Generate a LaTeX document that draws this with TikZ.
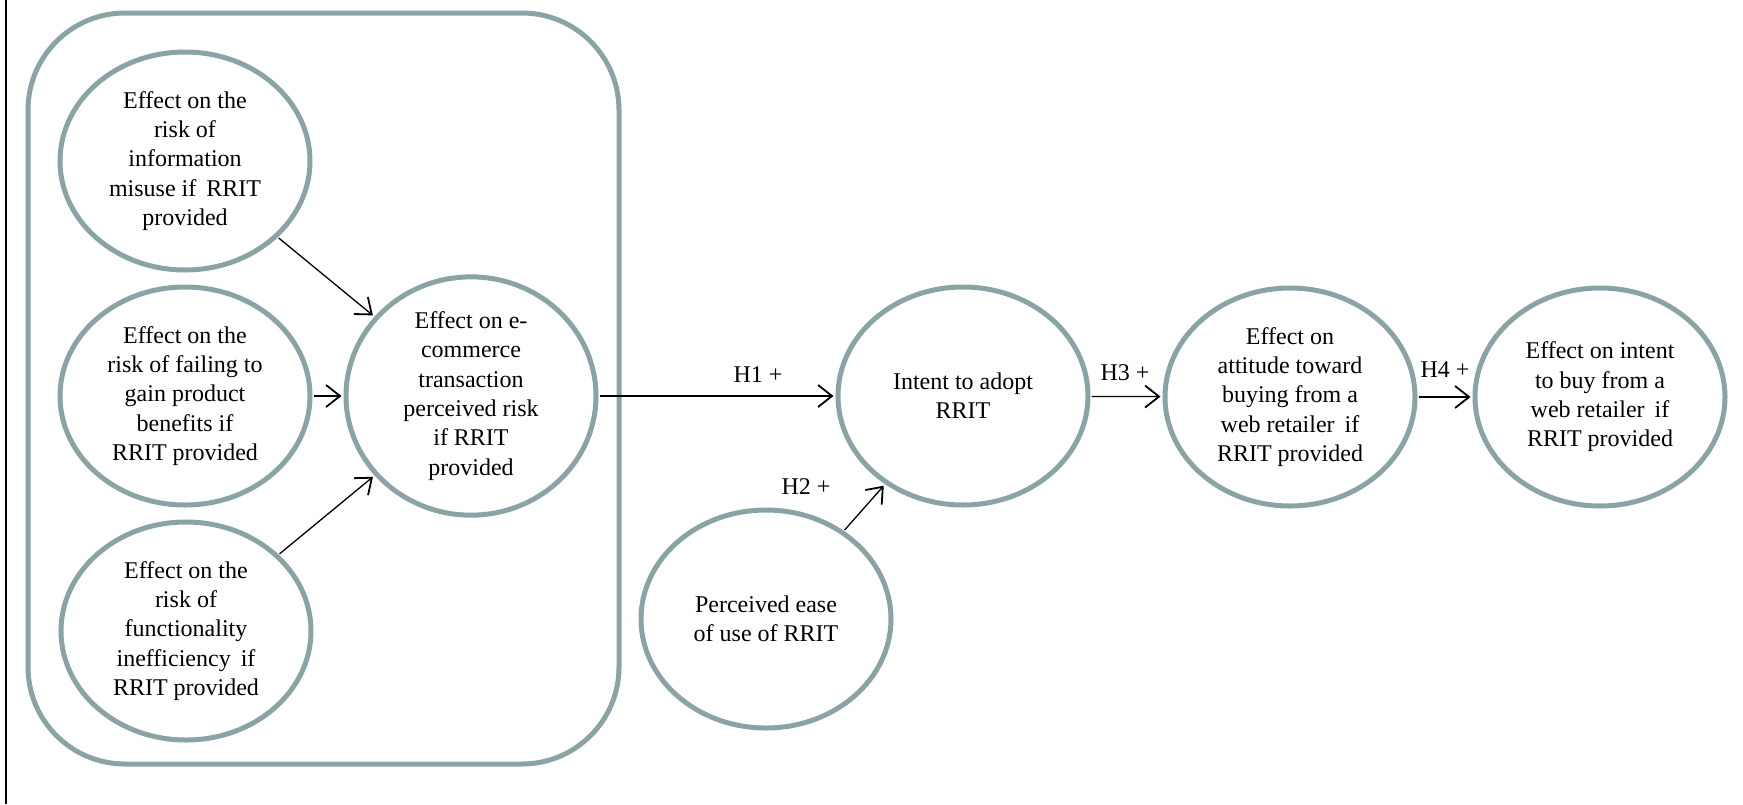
\documentclass[tikz,border=0pt]{standalone}
\usepackage{fontspec}
\setmainfont{Liberation Serif}
\usetikzlibrary{shapes.geometric,arrows.meta}
\definecolor{ringgray}{RGB}{138,164,166}
\begin{document}
\begin{tikzpicture}[x=1pt,y=-1pt,
  construct/.style={ellipse, draw=ringgray, line width=5pt, minimum width=250pt,
    minimum height=218pt, inner sep=0pt, align=center,
    font=\fontsize{24}{29.3}\selectfont},
  link/.style={draw=black, line width=1.3pt,
    -{Straight Barb[length=14pt,width=22pt,line width=1.8pt]},
    shorten >=2pt, shorten <=1pt},
  hyp/.style={font=\fontsize{24}{29}\selectfont, inner sep=0pt}]
\useasboundingbox (0,0) rectangle (1743,804);

% page rule on the left
\draw[line width=2.5pt] (6,0) -- (6,804);

% group of the risk constructs
\draw[ringgray, line width=5pt, rounded corners=97pt] (28,13) rectangle (619,764);

% constructs
\node[construct] (misuse) at (185,161) {Effect on the\\risk of\\information\\misuse if\, RRIT\\provided};
\node[construct] (benefit) at (185,396) {Effect on the\\risk of failing to\\gain product\\benefits if\\RRIT provided};
\node[construct] (function) at (186,631) {Effect on the\\risk of\\functionality\\inefficiency\, if\\RRIT provided};
\node[construct] (ecom) at (471,396) {Effect on e-\\commerce\\transaction\\perceived risk\\if RRIT\\provided};
\node[construct] (adopt) at (963,396) {Intent to adopt\\RRIT};
\node[construct] (ease) at (766,619) {Perceived ease\\of use of RRIT};
\node[construct] (attitude) at (1290,397) {Effect on\\attitude toward\\buying from a\\web retailer\, if\\RRIT provided};
\node[construct] (buy) at (1600,397) {Effect on intent\\to buy from a\\web retailer\, if\\RRIT provided};

% hypothesised paths
\draw[link] (misuse) -- (ecom);
\draw[link] (benefit) -- (ecom);
\draw[link] (function) -- (ecom);
\draw[link] (ecom) -- (adopt);
\draw[link] (ease) -- (adopt);
\draw[link] (adopt) -- (attitude);
\draw[link] (attitude) -- (buy);

% path labels
\node[hyp] (h1) at (758,375) {H1 +};
\node[hyp] (h2) at (806,487) {H2 +};
\node[hyp] (h3) at (1125,373) {H3 +};
\node[hyp] (h4) at (1445,370) {H4 +};
\end{tikzpicture}
\end{document}
